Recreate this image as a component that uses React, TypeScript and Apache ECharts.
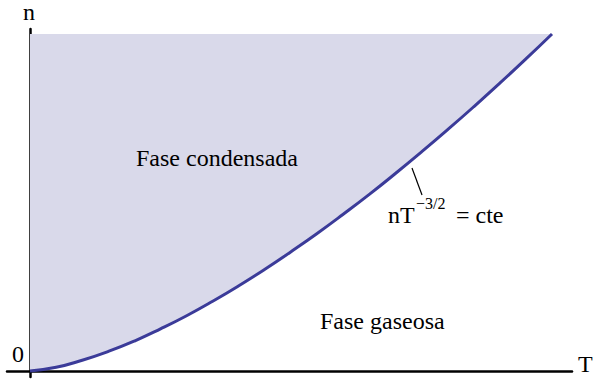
import React, { useEffect, useRef } from "react";
import * as echarts from "echarts";

// Temperature (normalised) and density (normalised) read along the boundary curve nT^{-3/2} = cte
const temperatures = [0, 0.05, 0.1, 0.15, 0.2, 0.25, 0.3, 0.35, 0.4, 0.45, 0.5, 0.55, 0.6, 0.65, 0.7, 0.75, 0.8, 0.85, 0.9, 0.95, 1.0];
const densities = [0, 0.011, 0.032, 0.058, 0.089, 0.125, 0.164, 0.207, 0.253, 0.302, 0.354, 0.408, 0.465, 0.524, 0.586, 0.65, 0.716, 0.784, 0.854, 0.926, 1.0];
const topDensity = 1;

const labelCondensed = "Fase condensada";
const labelGas = "Fase gaseosa";
const axisNameY = "n";
const axisNameX = "T";
const originLabel = "0";

const FONT = "Liberation Serif";

const ttl = (text: string, left: number, top: number, size = 24) => ({
  text,
  left,
  top,
  padding: 0,
  itemGap: 0,
  textStyle: { fontFamily: FONT, fontSize: size, fontWeight: "normal", color: "#000" },
});

export default function App() {
  const ref = useRef<HTMLDivElement>(null);

  useEffect(() => {
    if (!ref.current) return;
    const chart = echarts.init(ref.current, null, { renderer: "svg" });
    const curve = temperatures.map((t, i) => [t, densities[i]]);

    chart.setOption({
      animation: false,
      backgroundColor: "#ffffff",
      textStyle: { fontFamily: FONT },
      title: [
        ttl(labelCondensed, 136, 146),
        ttl(labelGas, 320, 309),
        ttl(originLabel, 12, 342),
        ttl(axisNameY, 23, 0),
        ttl(axisNameX, 578, 352),
        ttl("nT", 388, 203),
        ttl("\u22123/2", 416, 195, 16),
        ttl("= cte", 456, 203),
      ],
      grid: { left: 7, right: 21, top: 29, bottom: 3, containLabel: false },
      xAxis: {
        type: "value",
        min: -0.0441,
        max: 1.0383,
        axisLine: { show: true, onZero: true, lineStyle: { color: "#000", width: 2.5 } },
        axisTick: { show: false },
        axisLabel: { show: false },
        splitLine: { show: false },
      },
      yAxis: {
        type: "value",
        min: -0.0178,
        max: 1.0148,
        axisLine: { show: true, onZero: true, lineStyle: { color: "#000", width: 2.5 } },
        axisTick: { show: false },
        axisLabel: { show: false },
        splitLine: { show: false },
      },
      series: [
        {
          type: "line",
          data: curve,
          smooth: true,
          showSymbol: false,
          silent: true,
          z: 3,
          lineStyle: { color: "#3b3b99", width: 3 },
          areaStyle: { color: "#d9d9ea", opacity: 1, origin: topDensity },
        },
      ],
      graphic: [
        { type: "line", shape: { x1: 412, y1: 168, x2: 422, y2: 195 }, style: { stroke: "#000", lineWidth: 1.2 }, z: 10 },
      ],
    });

    return () => chart.dispose();
  }, []);

  return (
    <div
      ref={ref}
      style={{ position: "fixed", left: 0, top: 0, width: 593, height: 380, background: "#fff" }}
    />
  );
}
